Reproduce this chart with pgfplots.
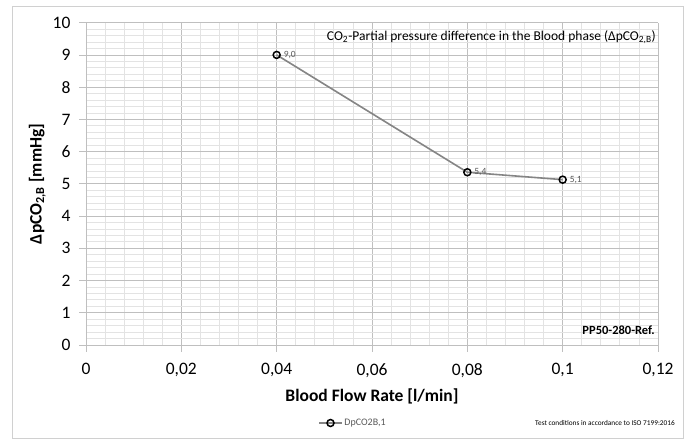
\documentclass[border=0pt]{standalone}
\usepackage{pgfplots}
\pgfplotsset{compat=1.18}
\usepackage{fontspec}
\setmainfont{Carlito}
\definecolor{majgrid}{HTML}{BFBFBF}
\definecolor{mingrid}{HTML}{E3E3E3}
\definecolor{linegray}{HTML}{858585}
\definecolor{framegray}{HTML}{D0D0D0}
\definecolor{lblgray}{HTML}{595959}
\begin{document}
\begin{tikzpicture}
\path[use as bounding box] (-86pt,-96pt) rectangle (602pt,345pt);
\fill[white] (-86pt,-96pt) rectangle (602pt,345pt);
\draw[framegray, line width=1pt] (-73.5pt,-94pt) rectangle (597pt,338.3pt);
\begin{axis}[
  at={(0pt,0pt)}, anchor=south west,
  scale only axis, width=572pt, height=322.3pt,
  xmin=0, xmax=0.12, ymin=0, ymax=10,
  xtick={0,0.02,0.04,0.06,0.08,0.1,0.12},
  xticklabels={0,{0,02},{0,04},{0,06},{0,08},{0,1},{0,12}},
  ytick={0,1,2,3,4,5,6,7,8,9,10},
  yticklabels={0,1,2,3,4,5,6,7,8,9,10},
  minor x tick num=4, minor y tick num=4,
  grid=both,
  major grid style={majgrid, line width=0.8pt},
  minor grid style={mingrid, line width=0.8pt},
  axis lines*=left,
  axis line style={majgrid, line width=0.8pt, -},
  tick align=outside,
  major tick length=7pt, minor tick length=0pt,
  every tick/.style={majgrid, line width=0.8pt},
  scaled x ticks=false,
  xticklabel style={font=\fontsize{17.5}{20}\selectfont, text=black, yshift=-8pt},
  yticklabel style={font=\fontsize{17.5}{20}\selectfont, text=black, xshift=-5pt},
  xlabel={\textbf{Blood Flow Rate [l/min]}},
  ylabel={\textbf{ΔpCO\textsubscript{2,B} [mmHg]}},
  xlabel style={font=\fontsize{17.5}{20}\selectfont, yshift=-4pt},
  ylabel style={font=\fontsize{17.5}{20}\selectfont},
  legend style={at={(0.467,-0.242)}, anchor=center, draw=none, fill=none,
    font=\fontsize{10}{12}\selectfont, text=lblgray},
  legend image code/.code={\draw[mark repeat=2,mark phase=2,#1] plot coordinates {(0cm,0cm)(0.39cm,0cm)(0.78cm,0cm)};},
  clip=false,
]
\addplot[linegray, line width=1.6pt,
  mark=o, mark size=3.5pt,
  mark options={draw=black, fill=white, line width=1.5pt},
  point meta=explicit symbolic,
  nodes near coords={\pgfplotspointmeta},
  every node near coord/.style={anchor=west, font=\fontsize{9.5}{11}\selectfont, text=lblgray, xshift=3pt, yshift=0pt},
] table[meta=label, row sep=\\] {
x y label\\
0.04 9.0 {9,0}\\
0.08 5.36 {5,4}\\
0.1 5.13 {5,1}\\
};
\addlegendentry{DpCO2B,1}
\end{axis}
\node[anchor=east, font=\fontsize{13.5}{16}\selectfont, inner sep=0pt] at (570pt,307.5pt)
  {CO\textsubscript{2}-Partial pressure difference in the Blood phase (ΔpCO\textsubscript{2,B})};
\node[anchor=east, font=\bfseries\fontsize{12.5}{15}\selectfont, inner sep=0pt] at (569pt,15pt) {PP50-280-Ref.};
\node[anchor=east, font=\fontsize{7.3}{9}\selectfont, inner sep=0pt] at (589pt,-78pt) {Test conditions in accordance to ISO 7199:2016};
\end{tikzpicture}
\end{document}
